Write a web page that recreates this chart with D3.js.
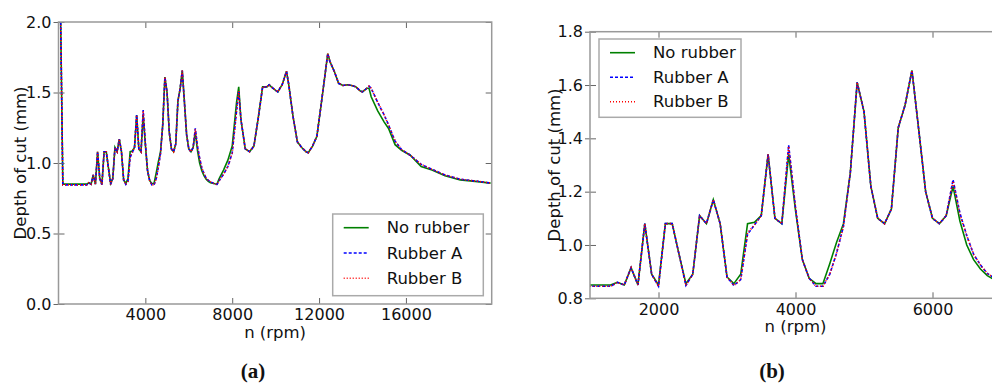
<!DOCTYPE html>
<html>
<head>
<meta charset="utf-8">
<script src="https://cdn.jsdelivr.net/npm/d3@7/dist/d3.min.js"></script>
<style>
  body { margin: 0; background: #fff; }
  svg { display: block; font-family: "DejaVu Sans", sans-serif; }
</style>
</head>
<body>
<script>
// spindle speed (rpm) and depth of cut (mm)
const rpm = [100, 200, 1000, 1100, 1200, 1300, 1400, 1500, 1600, 1700, 1800, 1900,
  2000, 2100, 2200, 2300, 2400, 2500, 2600, 2700, 2800, 2900,
  3000, 3100, 3200, 3300, 3400, 3500, 3600, 3700, 3800, 3900,
  4000, 4100, 4200, 4300, 4400, 4500, 4600, 4700, 4800, 4900,
  5000, 5100, 5200, 5300, 5400, 5500, 5600, 5700, 5800, 5900,
  6000, 6100, 6200, 6300, 6400, 6500, 6600, 6700, 6800, 6900,
  7000, 7200, 7300, 7400, 7600, 7800, 8000, 8200, 8300, 8400,
  8600, 8800, 9000, 9200, 9400, 9600, 9700, 9800, 10000, 10100,
  10300, 10500, 10600, 10800, 11000, 11200, 11400, 11500, 11700, 11900,
  12100, 12400, 12500, 12700, 12900, 13100, 13300, 13500, 13700, 13900,
  14000, 14200, 14300, 14400, 14700, 15000, 15200, 15500, 15800, 16200,
  16700, 17200, 17800, 18500, 19300, 19900];

const noRubber = [2.0, 0.85, 0.85, 0.85, 0.85, 0.85, 0.86, 0.85, 0.915, 0.85, 1.08, 0.89,
  0.85, 1.08, 1.08, 0.965, 0.855, 0.89, 1.11, 1.08, 1.17, 1.08,
  0.88, 0.855, 0.89, 1.08, 1.085, 1.11, 1.34, 1.10, 1.08, 1.34,
  1.13, 0.945, 0.875, 0.855, 0.855, 0.93, 1.01, 1.08, 1.27, 1.61,
  1.50, 1.22, 1.10, 1.08, 1.135, 1.44, 1.525, 1.655, 1.43, 1.20,
  1.10, 1.08, 1.11, 1.22, 1.09, 1.00, 0.945, 0.91, 0.885, 0.87,
  0.86, 0.853, 0.85, 0.89, 0.95, 1.02, 1.12, 1.43, 1.54, 1.31,
  1.10, 1.08, 1.12, 1.32, 1.54, 1.54, 1.555, 1.54, 1.515, 1.505,
  1.555, 1.65, 1.56, 1.33, 1.15, 1.11, 1.08, 1.073, 1.12, 1.19,
  1.42, 1.775, 1.72, 1.65, 1.565, 1.55, 1.555, 1.55, 1.54, 1.51,
  1.505, 1.53, 1.53, 1.47, 1.37, 1.29, 1.245, 1.13, 1.09, 1.055,
  0.975, 0.95, 0.91, 0.88, 0.868, 0.857];

const rubberA = [2.0, 0.845, 0.845, 0.845, 0.845, 0.845, 0.86, 0.85, 0.915, 0.85, 1.08, 0.89,
  0.845, 1.08, 1.08, 0.965, 0.848, 0.89, 1.11, 1.08, 1.17, 1.08,
  0.88, 0.848, 0.87, 1.04, 1.075, 1.11, 1.34, 1.10, 1.08, 1.375,
  1.14, 0.945, 0.875, 0.845, 0.845, 0.89, 0.97, 1.07, 1.27, 1.61,
  1.50, 1.22, 1.10, 1.08, 1.135, 1.44, 1.525, 1.655, 1.43, 1.20,
  1.10, 1.08, 1.11, 1.245, 1.12, 1.035, 0.965, 0.925, 0.893, 0.877,
  0.868, 0.85, 0.848, 0.875, 0.92, 0.975, 1.07, 1.37, 1.51, 1.31,
  1.10, 1.08, 1.12, 1.32, 1.54, 1.54, 1.555, 1.54, 1.515, 1.505,
  1.555, 1.65, 1.56, 1.33, 1.15, 1.11, 1.08, 1.073, 1.12, 1.19,
  1.42, 1.775, 1.72, 1.65, 1.565, 1.55, 1.555, 1.55, 1.54, 1.51,
  1.505, 1.53, 1.545, 1.53, 1.43, 1.34, 1.27, 1.155, 1.095, 1.055,
  0.99, 0.955, 0.915, 0.885, 0.87, 0.858];

const rubberB = [2.0, 0.845, 0.845, 0.845, 0.845, 0.845, 0.86, 0.85, 0.915, 0.85, 1.08, 0.89,
  0.845, 1.08, 1.08, 0.965, 0.848, 0.89, 1.11, 1.08, 1.17, 1.08,
  0.88, 0.848, 0.87, 1.045, 1.075, 1.11, 1.34, 1.10, 1.08, 1.37,
  1.14, 0.945, 0.875, 0.845, 0.845, 0.89, 0.97, 1.07, 1.27, 1.61,
  1.50, 1.22, 1.10, 1.08, 1.135, 1.44, 1.525, 1.655, 1.43, 1.20,
  1.10, 1.08, 1.11, 1.24, 1.115, 1.035, 0.965, 0.925, 0.893, 0.877,
  0.868, 0.85, 0.848, 0.875, 0.92, 0.975, 1.07, 1.37, 1.51, 1.31,
  1.10, 1.08, 1.12, 1.32, 1.54, 1.54, 1.555, 1.54, 1.515, 1.505,
  1.555, 1.65, 1.56, 1.33, 1.15, 1.11, 1.08, 1.073, 1.12, 1.19,
  1.42, 1.775, 1.72, 1.65, 1.565, 1.55, 1.555, 1.55, 1.54, 1.51,
  1.505, 1.53, 1.545, 1.53, 1.43, 1.34, 1.27, 1.155, 1.095, 1.055,
  0.99, 0.955, 0.915, 0.885, 0.87, 0.858];

const seriesNames = ["No rubber", "Rubber A", "Rubber B"];
const panelTicksX = [[4000, 8000, 12000, 16000], [2000, 4000, 6000]];
const panelTicksY = [[0, 0.5, 1.0, 1.5, 2.0], [0.8, 1.0, 1.2, 1.4, 1.6, 1.8]];
const captions = ["(a)", "(b)"];

const series = [
  { name: seriesNames[0], values: noRubber, color: "#008000", dash: null },
  { name: seriesNames[1], values: rubberA, color: "#0000ff", dash: "3,2" },
  { name: seriesNames[2], values: rubberB, color: "#ff0000", dash: "1,2" }
];

const w = 992, h = 383;
const svg = d3.select("body").append("svg").attr("width", w).attr("height", h);

const panels = [
  { left: 58.5, right: 491.7, top: 22, bottom: 304, xDomain: [0, 19950], yDomain: [0, 2],
    labelX: 20, legend: { x: 332.7, y: 214, w: 150.6, h: 81.7, step: 25.3 } },
  { left: 590, right: 1001, top: 31.7, bottom: 298.3, xDomain: [1000, 7000], yDomain: [0.8, 1.8],
    labelX: 554, legend: { x: 599, y: 39, w: 142, h: 78.3, step: 24.5 } }
];

panels.forEach((p, i) => {
  const x = d3.scaleLinear().domain(p.xDomain).range([p.left, p.right]);
  const y = d3.scaleLinear().domain(p.yDomain).range([p.bottom, p.top]);
  const g = svg.append("g");

  g.append("clipPath").attr("id", "clip" + i)
    .append("rect")
    .attr("x", p.left).attr("y", p.top)
    .attr("width", p.right - p.left).attr("height", p.bottom - p.top);

  const line = d3.line()
    .x((d, k) => x(rpm[k]))
    .y(d => y(d));

  series.forEach(s => {
    g.append("path")
      .datum(s.values)
      .attr("clip-path", `url(#clip${i})`)
      .attr("fill", "none")
      .attr("stroke", s.color)
      .attr("stroke-width", 1.6)
      .attr("stroke-dasharray", s.dash)
      .attr("d", line);
  });

  // axes: ticks point inward, labels on left and bottom only
  const fmtY = d3.format(".1f");
  const xb = g.append("g").attr("transform", `translate(0,${p.bottom})`)
    .call(d3.axisBottom(x).tickValues(panelTicksX[i]).tickSize(-6).tickPadding(5).tickFormat(d3.format("d")));
  const xt = g.append("g").attr("transform", `translate(0,${p.top})`)
    .call(d3.axisTop(x).tickValues(panelTicksX[i]).tickSize(-6).tickFormat(""));
  const yl = g.append("g").attr("transform", `translate(${p.left},0)`)
    .call(d3.axisLeft(y).tickValues(panelTicksY[i]).tickSize(5).tickPadding(2).tickFormat(fmtY));
  yl.selectAll(".tick").append("line").attr("x2", 6).attr("stroke", "#666");
  const yr = g.append("g").attr("transform", `translate(${p.right},0)`)
    .call(d3.axisRight(y).tickValues(panelTicksY[i]).tickSize(-6).tickFormat(""));

  [xb, xt, yl, yr].forEach(a => {
    a.select(".domain").remove();
    a.selectAll(".tick line").attr("stroke", "#666");
    a.selectAll("text").attr("font-size", 16).attr("fill", "#111")
      .attr("font-family", "DejaVu Sans");
  });

  g.append("rect")
    .attr("x", p.left).attr("y", p.top)
    .attr("width", p.right - p.left).attr("height", p.bottom - p.top)
    .attr("fill", "none").attr("stroke", "#999").attr("stroke-width", 1.5);

  // axis titles
  g.append("text")
    .attr("transform", `translate(${p.labelX},${(p.top + p.bottom) / 2}) rotate(-90)`)
    .attr("text-anchor", "middle").attr("dominant-baseline", "central")
    .attr("font-size", 16.5).attr("fill", "#111")
    .text("Depth of cut (mm)");

  g.append("text")
    .attr("x", (p.left + p.right) / 2).attr("y", p.bottom + 34)
    .attr("text-anchor", "middle").attr("font-size", 16.5).attr("fill", "#111")
    .text("n (rpm)");

  // legend
  const lg = p.legend;
  const legend = g.append("g").attr("class", "legend");
  legend.append("rect")
    .attr("x", lg.x).attr("y", lg.y).attr("width", lg.w).attr("height", lg.h)
    .attr("fill", "#fff").attr("stroke", "#aaa").attr("stroke-width", 1.5);
  series.forEach((s, k) => {
    const ly = lg.y + 13.7 + k * lg.step;
    legend.append("line")
      .attr("x1", lg.x + 11).attr("x2", lg.x + 36)
      .attr("y1", ly).attr("y2", ly)
      .attr("stroke", s.color).attr("stroke-width", 1.6)
      .attr("stroke-dasharray", s.dash);
    legend.append("text")
      .attr("x", lg.x + 54).attr("y", ly)
      .attr("dominant-baseline", "central")
      .attr("font-size", 16.5).attr("fill", "#111")
      .text(s.name);
  });

  svg.append("text")
    .attr("x", i === 0 ? 253 : 772).attr("y", 378)
    .attr("text-anchor", "middle")
    .attr("font-family", "Liberation Serif")
    .attr("font-weight", "bold").attr("font-size", 21).attr("fill", "#111")
    .text(captions[i]);
});
</script>
</body>
</html>
